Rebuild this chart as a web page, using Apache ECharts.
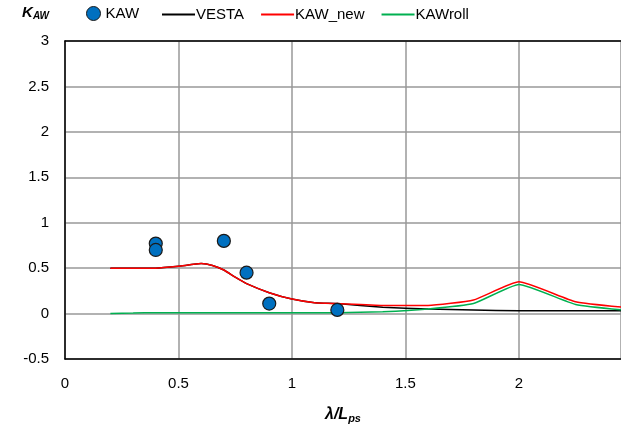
<!DOCTYPE html>
<html><head><meta charset="utf-8">
<script src="https://cdn.jsdelivr.net/npm/echarts@6/dist/echarts.min.js"></script>
<style>html,body{margin:0;padding:0;background:#fff}#c{width:621px;height:436px}</style>
</head><body><div id="c"></div>
<script>
const kawX = [0.4, 0.4, 0.7, 0.8, 0.9, 1.2];
const kawY = [0.77, 0.70, 0.80, 0.45, 0.11, 0.04];
const lineX = [0.2, 0.3, 0.4, 0.5, 0.6, 0.65, 0.7, 0.75, 0.8, 0.9, 1.0, 1.1, 1.2, 1.4, 1.6, 1.8, 2.0, 2.25, 2.5];
const vesta   = [0.50, 0.50, 0.50, 0.52, 0.55, 0.53, 0.48, 0.40, 0.33, 0.23, 0.16, 0.12, 0.11, 0.07, 0.05, 0.04, 0.03, 0.03, 0.03];
const kawNew  = [0.50, 0.50, 0.50, 0.52, 0.55, 0.53, 0.48, 0.40, 0.33, 0.23, 0.16, 0.12, 0.11, 0.09, 0.09, 0.15, 0.35, 0.13, 0.06];
const kawRoll = [0.00, 0.005, 0.01, 0.01, 0.01, 0.01, 0.01, 0.01, 0.01, 0.01, 0.01, 0.01, 0.01, 0.02, 0.05, 0.11, 0.32, 0.10, 0.03];
const xTicks = [0, 0.5, 1, 1.5, 2];
const xVisibleMax = 2.45;
const yTicks = [-0.5, 0, 0.5, 1, 1.5, 2, 2.5, 3];

const zip = (xs, ys) => xs.map((x, i) => [x, ys[i]]);
const font = 'Liberation Sans';
const blackLine = { show: true, onZero: false, lineStyle: { color: '#000', width: 1.5 } };
const chart = echarts.init(document.getElementById('c'));
chart.setOption({
  animation: false,
  textStyle: { fontFamily: font },
  grid: { left: 65, top: 41, right: 0, bottom: 77 },
  legend: [
    { left: 81, top: 1, itemWidth: 14, itemHeight: 14, textStyle: { fontSize: 15, color: '#000', fontFamily: font },
      data: [{ name: 'KAW', icon: 'circle', itemStyle: { color: '#0070C0', borderColor: '#1a1a1a', borderWidth: 1, opacity: 1 } }] },
    { left: 157, top: 2, itemGap: 17, itemWidth: 33, itemHeight: 2, icon: 'rect',
      textStyle: { fontSize: 15, color: '#000', fontFamily: font, padding: [0,0,0,-4] },
      data: ['VESTA', 'KAW_new', 'KAWroll'] }
  ],
  xAxis: [{
    type: 'value', min: xTicks[0], max: xVisibleMax, interval: 0.5,
    axisLine: blackLine, axisTick: { show: false },
    splitLine: { lineStyle: { color: '#999', width: 1.5 } },
    axisLabel: { fontSize: 15, color: '#000', margin: 17, showMaxLabel: false },
    name: '{a|λ/L}{b|ps}', nameLocation: 'middle', nameGap: 46,
    nameTextStyle: { rich: {
      a: { fontSize: 16, fontWeight: 'bold', fontStyle: 'italic', color: '#000', fontFamily: font },
      b: { fontSize: 11, fontWeight: 'bold', fontStyle: 'italic', color: '#000', fontFamily: font, padding: [8,0,0,0] }
    } }
  }, {
    type: 'value', position: 'top', min: xTicks[0], max: xVisibleMax,
    axisLine: blackLine, axisTick: { show: false }, axisLabel: { show: false }, splitLine: { show: false }
  }],
  yAxis: {
    type: 'value', min: yTicks[0], max: yTicks[yTicks.length - 1], interval: 0.5,
    axisLine: blackLine, axisTick: { show: false },
    splitLine: { lineStyle: { color: '#999', width: 1.5 } },
    axisLabel: { fontSize: 15, color: '#000', margin: 16 },
    name: '{a|K}{b|AW}', nameLocation: 'end', nameGap: 20,
    nameTextStyle: { align: 'right', padding: [0, 16, 0, 0], rich: {
      a: { fontSize: 15, fontWeight: 'bold', fontStyle: 'italic', color: '#000', fontFamily: font },
      b: { fontSize: 10, fontWeight: 'bold', fontStyle: 'italic', color: '#000', fontFamily: font, padding: [6,0,0,0] }
    } }
  },
  series: [
    { name: 'KAW', type: 'scatter', data: zip(kawX, kawY), symbolSize: 13, z: 5,
      itemStyle: { color: '#0070C0', borderColor: '#1a1a1a', borderWidth: 1.2, opacity: 1 } },
    { name: 'VESTA', type: 'line', data: zip(lineX, vesta), symbol: 'none', smooth: 0.15,
      lineStyle: { color: '#000', width: 1.5 }, itemStyle: { color: '#000' }, z: 2 },
    { name: 'KAW_new', type: 'line', data: zip(lineX, kawNew), symbol: 'none', smooth: 0.15,
      lineStyle: { color: '#FF0000', width: 1.5 }, itemStyle: { color: '#FF0000' }, z: 3 },
    { name: 'KAWroll', type: 'line', data: zip(lineX, kawRoll), symbol: 'none', smooth: 0.15,
      lineStyle: { color: '#00B050', width: 1.5 }, itemStyle: { color: '#00B050' }, z: 3 }
  ]
});
</script></body></html>
